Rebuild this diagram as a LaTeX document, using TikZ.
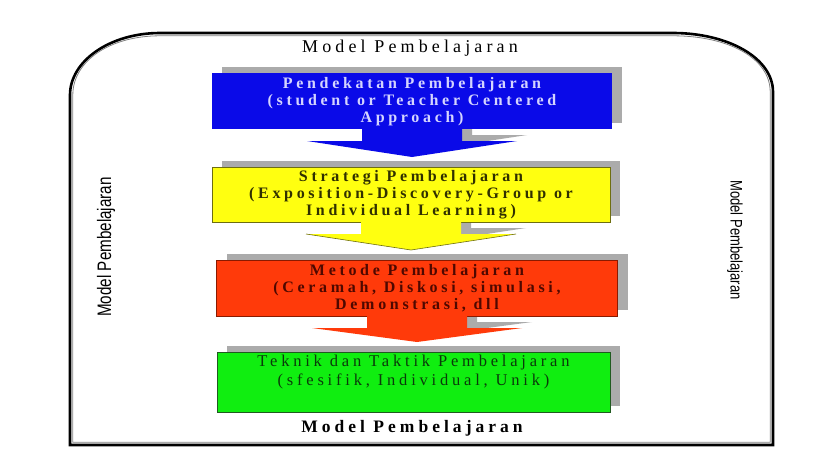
\documentclass[tikz,border=0pt]{standalone}
\usepackage{fontspec}
\setmainfont{Liberation Serif}
\newfontfamily\boxfont[LetterSpace=23]{Liberation Serif}
\newfontfamily\titlefont[LetterSpace=23]{Liberation Serif}
\newfontfamily\sidefont{Liberation Sans}
\usetikzlibrary{calc}
\definecolor{bluefill}{HTML}{0A0AE8}
\definecolor{bluetext}{HTML}{D4D4FF}
\definecolor{yellowfill}{HTML}{FFFF10}
\definecolor{yellowline}{HTML}{6E6E10}
\definecolor{yellowtext}{HTML}{303000}
\definecolor{redfill}{HTML}{FF3A0A}
\definecolor{redline}{HTML}{8A1A00}
\definecolor{redtext}{HTML}{4E0800}
\definecolor{greenfill}{HTML}{10EE10}
\definecolor{greenline}{HTML}{205A20}
\definecolor{greentext}{HTML}{0A3A0A}
\definecolor{shadowgray}{HTML}{ABABAB}
\newcommand{\frameshape}[1]{(70+#1,445-#1) -- (70+#1,95) .. controls (70+#1,61) and (110,33+#1) .. (160,33+#1) -- (673,33+#1) .. controls (728,33+#1) and (773-#1,58) .. (773-#1,92) -- (773-#1,445-#1) -- cycle}
% #1 from node, #2 to node, #3 dx, #4 dy
\newcommand{\arrowshape}[4]{($(#1.south)+(-50+#3,#4)$) -- ($(#1.south)+(50+#3,#4)$) -- ($(#1.south)+(50+#3,12+#4)$) -- ($(#1.south)+(105+#3,12+#4)$) -- ($(#1.south |- #2.north)+(#3,-10+#4)$) -- ($(#1.south)+(-105+#3,12+#4)$) -- ($(#1.south)+(-50+#3,12+#4)$) -- cycle}
\tikzset{
  boxshape/.style={rectangle, inner sep=0pt, outer sep=0pt, line width=1pt},
  shadowbox/.style={boxshape, fill=shadowgray},
  boxtext/.style={font=\boxfont\bfseries\fontsize{16}{17}\selectfont, align=center, inner sep=0pt},
  titletext/.style={font=\titlefont\fontsize{18}{20}\selectfont, inner sep=0pt},
  sidetext/.style={font=\sidefont, inner sep=0pt},
}
\begin{document}
\begin{tikzpicture}[x=1pt,y=-1pt]
\useasboundingbox[fill=white] (0,0) rectangle (814,455);

% outer frame
\draw[line width=2.6pt, black] \frameshape{0};
\draw[line width=0.8pt, gray] \frameshape{2.8};

% box shadows
\node[shadowbox, minimum width=400pt, minimum height=56pt] (s1) at (422,95) {};
\node[shadowbox, minimum width=398pt, minimum height=55pt] (s2) at (421,188.5) {};
\node[shadowbox, minimum width=401pt, minimum height=56pt] (s3) at (427.5,282) {};
\node[shadowbox, minimum width=393pt, minimum height=60pt] (s4) at (423.5,376) {};

% boxes (positions)
\node[boxshape, minimum width=400pt, minimum height=56pt] (b1) at (412,101) {};
\node[boxshape, minimum width=398pt, minimum height=55pt] (b2) at (411,194.5) {};
\node[boxshape, minimum width=401pt, minimum height=56pt] (b3) at (417,288) {};
\node[boxshape, minimum width=393pt, minimum height=60pt] (b4) at (413.5,382) {};

% arrow shadows (right half only)
\foreach \a/\b in {b1/b2, b2/b3, b3/b4}{
  \begin{scope}
    \clip ($(\a.south)+(0,-20)$) rectangle ($(\a.south)+(200,60)$);
    \fill[shadowgray] \arrowshape{\a}{\b}{10}{-6};
  \end{scope}
}

% boxes drawn
\fill[bluefill] (b1.north west) rectangle (b1.south east);
\draw[yellowline, fill=yellowfill, line width=1pt] (b2.north west) rectangle (b2.south east);
\draw[redline, fill=redfill, line width=1pt] (b3.north west) rectangle (b3.south east);
\draw[greenline, fill=greenfill, line width=1pt] (b4.north west) rectangle (b4.south east);

% block arrows
\fill[bluefill] \arrowshape{b1}{b2}{0}{0};
\fill[yellowfill] \arrowshape{b2}{b3}{0}{0};
\draw[yellowline, line width=0.6pt] ($(b2.south)+(105,12)$) -- ($(b2.south |- b3.north)+(0,-10)$) -- ($(b2.south)+(-105,12)$);
\fill[redfill] \arrowshape{b3}{b4}{0}{0};

% texts
\node[boxtext, text=bluetext] (t1) at (412,101.5) {Pendekatan Pembelajaran\\(student or Teacher Centered\\Approach)};
\node[boxtext, text=yellowtext] (t2) at (411,195) {Strategi Pembelajaran\\(Exposition-Discovery-Group or\\Individual Learning)};
\node[boxtext, text=redtext] (t3) at (417,288) {Metode Pembelajaran\\(Ceramah, Diskosi, simulasi,\\Demonstrasi, dll};
\node[boxtext, text=greentext, font=\boxfont\fontsize{16.5}{19}\selectfont] (t4) at (413.5,372.5) {Teknik dan Taktik Pembelajaran\\(sfesifik, Individual, Unik)};

% titles
\node[titletext] (top) at (410,48) {Model Pembelajaran};
\node[titletext, font=\titlefont\bfseries\fontsize{17.5}{20}\selectfont] (bottom) at (412,428) {Model Pembelajaran};
\node[sidetext, rotate=90] (left) at (106,247) {\fontsize{19.5}{21}\selectfont\scalebox{0.78}[1]{Model Pembelajaran}};
\node[sidetext, rotate=-90] (right) at (735,240) {\fontsize{16.7}{18}\selectfont\scalebox{0.78}[1]{Model Pembelajaran}};
\end{tikzpicture}
\end{document}
